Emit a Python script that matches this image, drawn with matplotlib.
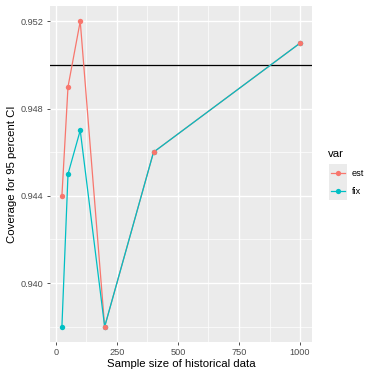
import matplotlib.pyplot as plt
from matplotlib.lines import Line2D
from matplotlib.patches import Rectangle

plt.rcParams['font.family'] = ['Liberation Sans', 'DejaVu Sans']

# data
sample_size = [25, 50, 100, 200, 400, 1000]
est = [0.944, 0.949, 0.952, 0.938, 0.946, 0.951]
fix = [0.938, 0.945, 0.947, 0.938, 0.946, 0.951]
target = 0.95
xticks = [0, 250, 500, 750, 1000]
yticks = [0.940, 0.944, 0.948, 0.952]
groups = ['est', 'fix']

col_est = '#F8766D'
col_fix = '#00BFC4'
W, H = 371, 376

fig = plt.figure(figsize=(W/100, H/100), dpi=100)
ax = fig.add_axes([50/W, 34/H, 262/W, 336/H])
ax.set_facecolor('#EBEBEB')

# ggplot style grid
ax.set_xticks(xticks)
ax.set_yticks(yticks)
ax.set_xticks([125, 375, 625, 875], minor=True)
ax.set_yticks([0.938, 0.942, 0.946, 0.950], minor=True)
ax.grid(which='major', color='white', lw=1.0)
ax.grid(which='minor', color='white', lw=0.5)
ax.set_axisbelow(True)
for s in ax.spines.values():
    s.set_visible(False)

xmin, xmax = min(sample_size), max(sample_size)
ymin, ymax = min(est + fix), max(est + fix)
ax.set_xlim(xmin - 0.05*(xmax-xmin), xmax + 0.05*(xmax-xmin))
ax.set_ylim(ymin - 0.05*(ymax-ymin), ymax + 0.05*(ymax-ymin))

ax.axhline(target, color='black', lw=0.9, zorder=2)

ax.plot(sample_size, est, color=col_est, lw=0.9, zorder=3)
ax.plot(sample_size, fix, color=col_fix, lw=0.9, zorder=3)
ax.scatter(sample_size, fix, color=col_fix, s=15, zorder=4, linewidths=0)
ax.scatter(sample_size, est, color=col_est, s=15, zorder=5, linewidths=0)

ax.set_yticklabels(['%.3f' % v for v in yticks])
ax.tick_params(which='major', length=2.5, width=0.6, color='#333333',
               labelsize=6.6, labelcolor='#4D4D4D', pad=2)
ax.tick_params(which='minor', length=0)

ax.set_xlabel('Sample size of historical data', fontsize=8.2, labelpad=1.5)
ax.set_ylabel('Coverage for 95 percent CI', fontsize=8.2, labelpad=3)

# legend drawn by hand, ggplot style
fig.text(328/W, 1 - 154/H, 'var', fontsize=8.2, va='center', ha='left')
fig.add_artist(Rectangle((329/W, 1 - 200/H), 18/W, 36/H,
                         transform=fig.transFigure, facecolor='#EBEBEB',
                         edgecolor='none'))
for i, (g, c) in enumerate(zip(groups, [col_est, col_fix])):
    yy = 1 - (173 + 18*i)/H
    fig.add_artist(Line2D([331/W, 345/W], [yy, yy], color=c, lw=0.9,
                          transform=fig.transFigure))
    fig.add_artist(Line2D([338/W], [yy], color=c, marker='o', ms=3.8,
                          markeredgewidth=0, transform=fig.transFigure))
    fig.text(352/W, yy, g, fontsize=6.6, va='center', ha='left')

fig.savefig('out.png', dpi=100)
